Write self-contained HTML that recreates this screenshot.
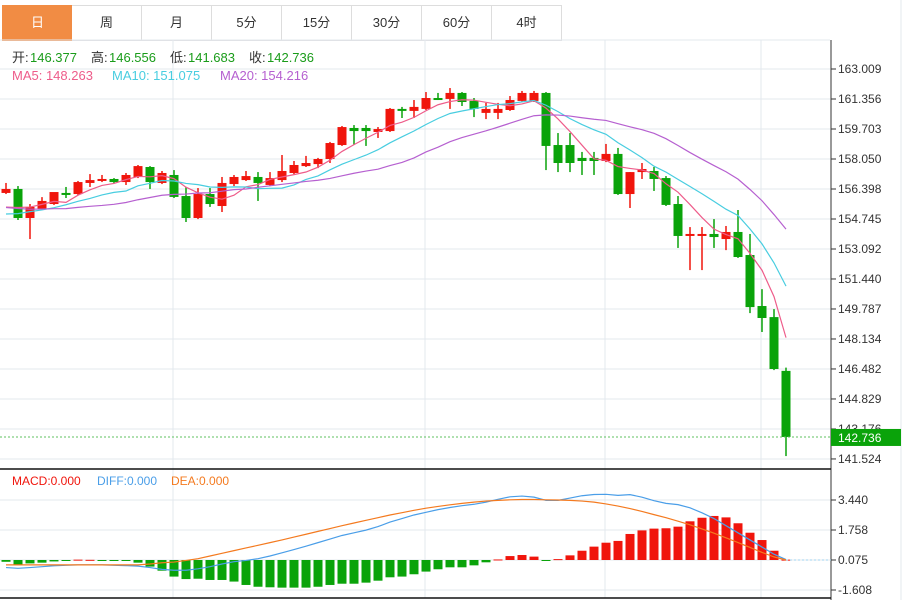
<!DOCTYPE html>
<html><head><meta charset="utf-8">
<style>
body{margin:0;background:#fff;font-family:"Liberation Sans","Noto Sans CJK SC",sans-serif;}
#wrap{position:relative;width:904px;height:600px;overflow:hidden;background:#fff;}
.tab{position:absolute;top:5px;height:34px;width:69px;border:1px solid #ddd;border-left:none;font-size:13px;color:#333;text-align:center;line-height:34px;background:#fff;}
.tab.active{background:#f18c44;color:#fff;border-color:#f18c44;}
</style></head><body>
<div id="wrap">
<div class="tab active" style="left:2px;border-left:1px solid #f18c44">日</div>
<div class="tab" style="left:72px">周</div>
<div class="tab" style="left:142px">月</div>
<div class="tab" style="left:212px">5分</div>
<div class="tab" style="left:282px">15分</div>
<div class="tab" style="left:352px">30分</div>
<div class="tab" style="left:422px">60分</div>
<div class="tab" style="left:492px">4时</div>
<svg id="svg" width="904" height="600" style="position:absolute;left:0;top:0"></svg>
</div>
<script>
const opens=[156.18,156.40,154.80,155.29,155.57,156.18,156.12,156.73,156.84,156.95,156.78,157.06,157.61,156.73,157.17,156.01,154.80,156.12,155.46,156.67,156.89,157.06,156.62,156.89,157.28,157.66,157.77,158.05,158.82,159.76,159.76,159.54,159.59,160.81,160.70,160.81,161.41,161.36,161.69,161.25,160.59,160.59,160.75,161.25,161.25,161.69,158.82,158.82,158.11,158.11,157.94,158.33,156.12,157.33,157.39,157.00,155.57,153.81,153.81,153.92,153.64,154.03,152.76,149.95,149.34,146.377];
const highs=[156.73,156.56,155.57,155.95,156.01,156.51,156.84,157.22,157.17,157.00,157.28,157.72,157.66,157.39,157.44,156.51,156.45,156.45,157.06,157.17,157.39,157.33,157.33,158.27,157.94,158.22,158.11,158.99,159.87,159.92,159.92,159.81,160.86,160.92,161.30,161.74,161.69,161.96,161.74,161.41,161.14,161.14,161.52,161.80,161.80,161.74,159.48,159.48,158.44,158.44,158.88,158.66,157.33,157.83,157.61,157.11,156.01,154.30,154.30,154.74,154.36,155.24,153.92,150.88,149.78,146.556];
const lows=[156.12,154.69,153.64,155.24,155.52,155.90,156.07,156.51,156.78,156.73,156.62,157.00,156.40,156.67,155.90,154.58,154.74,155.41,155.13,156.56,156.84,155.74,156.56,156.78,157.22,157.61,157.55,157.83,158.77,158.82,158.77,159.21,159.54,160.31,160.31,160.75,161.30,160.81,160.97,160.36,160.25,160.25,160.70,161.19,161.19,157.44,157.33,157.33,157.17,157.17,157.88,156.07,155.35,156.95,156.29,155.46,153.15,151.93,151.93,153.15,153.03,152.60,149.56,148.52,146.42,141.683];
const closes=[156.40,154.80,155.41,155.74,156.23,156.12,156.78,156.89,156.95,156.78,157.17,157.66,156.78,157.28,155.96,154.80,156.12,155.57,156.73,157.06,157.11,156.73,157.00,157.39,157.72,157.83,158.05,158.93,159.81,159.59,159.59,159.70,160.81,160.70,160.92,161.41,161.36,161.69,161.19,160.81,160.81,160.81,161.30,161.69,161.69,158.77,157.83,157.83,157.94,157.94,158.33,156.12,157.33,157.50,156.95,155.52,153.81,153.92,153.92,153.75,154.03,152.65,149.89,149.29,146.48,142.736];
const priorCloses=[155.9,156.2,155.6,155.8,156.1,155.4,155.7,156.0,155.5,155.2,154.6,154.3,154.8,155.0,154.5,154.9,155.3,155.0,155.4];
const priceTicks=["163.009","161.356","159.703","158.050","156.398","154.745","153.092","151.440","149.787","148.134","146.482","144.829","143.176","141.524"];
const macdTicks=["3.440","1.758","0.075","-1.608"];
const macdHist=[-0.1,-0.3,-0.19,-0.15,-0.08,-0.03,0.02,0.01,-0.02,-0.03,-0.05,-0.15,-0.37,-0.6,-0.93,-1.07,-1.05,-1.12,-1.12,-1.21,-1.4,-1.5,-1.53,-1.55,-1.55,-1.55,-1.5,-1.4,-1.33,-1.33,-1.27,-1.16,-0.97,-0.93,-0.8,-0.65,-0.52,-0.41,-0.41,-0.3,-0.13,0.03,0.22,0.28,0.19,-0.03,0.05,0.26,0.52,0.75,0.97,1.07,1.46,1.66,1.76,1.78,1.87,2.17,2.37,2.47,2.39,2.06,1.53,1.12,0.52,0.02];
const diffVals=[-0.35,-0.39,-0.35,-0.3,-0.25,-0.22,-0.2,-0.2,-0.2,-0.22,-0.24,-0.27,-0.35,-0.45,-0.5,-0.5,-0.42,-0.3,-0.15,-0.02,0.05,0.15,0.3,0.48,0.66,0.85,1.05,1.25,1.45,1.6,1.75,1.95,2.2,2.4,2.6,2.75,2.9,3.02,3.12,3.2,3.32,3.48,3.62,3.66,3.6,3.42,3.42,3.55,3.68,3.75,3.76,3.7,3.74,3.6,3.4,3.25,3.18,3.0,2.72,2.4,2.0,1.6,1.2,0.8,0.4,0.1];
const deaVals=[-0.2,-0.2,-0.2,-0.2,-0.2,-0.2,-0.2,-0.2,-0.2,-0.2,-0.2,-0.2,-0.15,-0.08,-0.04,0.05,0.15,0.3,0.45,0.6,0.75,0.9,1.05,1.2,1.36,1.52,1.68,1.84,2.0,2.15,2.3,2.45,2.6,2.73,2.86,2.98,3.08,3.17,3.25,3.32,3.38,3.42,3.45,3.47,3.47,3.45,3.44,3.42,3.38,3.32,3.22,3.1,2.96,2.8,2.62,2.45,2.25,2.05,1.82,1.58,1.32,1.05,0.78,0.5,0.25,0.075];

const NS='http://www.w3.org/2000/svg';
const svg=document.getElementById('svg');
function mk(tag,attrs,parent){const e=document.createElementNS(NS,tag);for(const k in attrs)e.setAttribute(k,attrs[k]);(parent||svg).appendChild(e);return e;}
const xAt=i=>6+12*i;
const yP=v=>69+(163.009-v)*18.15;
const yM=v=>560-(v-0.075)*17.83;
const yH=v=>560-v*17.83;

// grid
mk('line',{x1:0,y1:40,x2:830,y2:40,stroke:'#e3e8ee'});
priceTicks.forEach(t=>{const y=yP(parseFloat(t));
 const g=mk('line',{x1:0,y1:y,x2:830,y2:y,stroke:'#e3e8ee'});
 
 mk('line',{x1:831,y1:y,x2:836,y2:y,stroke:'#333'});
 const tx=mk('text',{x:838,y:y+4,'font-size':12,fill:'#333','font-family':'Liberation Sans, sans-serif'});tx.textContent=t;
 
});
macdTicks.forEach(t=>{const y=yM(parseFloat(t));
 mk('line',{x1:0,y1:y,x2:830,y2:y,stroke:'#e3e8ee'});
 mk('line',{x1:831,y1:y,x2:836,y2:y,stroke:'#333'});
 const tx=mk('text',{x:838,y:y+4,'font-size':12,fill:'#333','font-family':'Liberation Sans, sans-serif'});tx.textContent=t;
 
});
[173,425,605,761].forEach(x=>{mk('line',{x1:x,y1:40,x2:x,y2:598,stroke:'#e3e8ee'});});
mk('line',{x1:831,y1:40,x2:831,y2:600,stroke:'#333'});
mk('line',{x1:901,y1:0,x2:901,y2:600,stroke:'#e3e8ee'});
mk('line',{x1:0,y1:469,x2:831,y2:469,stroke:'#111','stroke-width':1.5});
mk('line',{x1:0,y1:598,x2:831,y2:598,stroke:'#111','stroke-width':1.5});

// candles
opens.forEach((o,i)=>{const c=closes[i];const up=c>=o;const col=up?'#f0150c':'#0aa30a';const x=xAt(i);
 const w=mk('line',{x1:x,y1:yP(highs[i]),x2:x,y2:yP(lows[i]),stroke:col,'stroke-width':1.5});
 
 const top=yP(Math.max(o,c)),bot=yP(Math.min(o,c));
 const r=mk('rect',{x:x-4.5,y:top,width:9,height:Math.max(2,bot-top),fill:col});
 
});
// MAs
function ma(n){const all=priorCloses.concat(closes);return closes.map((_,i)=>{const j=i+priorCloses.length;let s=0,k=0;for(let q=Math.max(0,j-n+1);q<=j;q++){s+=all[q];k++;}return s/k;});}
[[5,'#ee5c8a','ma5-line'],[10,'#48cde0','ma10-line'],[20,'#b660d0','ma20-line']].forEach(([n,col,name])=>{
 const v=ma(n);const p=mk('polyline',{points:v.map((m,i)=>xAt(i)+','+yP(m)).join(' '),fill:'none',stroke:col,'stroke-width':1.2});
 
});
// last price
const ly=yP(closes[closes.length-1]);
mk('line',{x1:0,y1:ly,x2:831,y2:ly,stroke:'#5fc25f','stroke-dasharray':'2,2'});
const tag=mk('rect',{x:831,y:ly-8,width:70,height:17,fill:'#0aa30a'});

const tt=mk('text',{x:838,y:ly+5,'font-size':12,fill:'#fff','font-family':'Liberation Sans, sans-serif'});tt.textContent=closes[closes.length-1].toFixed(3);

// MACD
macdHist.forEach((v,i)=>{const x=xAt(i);const y0=yH(0),y1=yH(v);
 const r=mk('rect',{x:x-4.5,y:Math.min(y0,y1),width:9,height:Math.max(1,Math.abs(y1-y0)),fill:v>=0?'#f0150c':'#0aa30a'});
 
});
const d1=mk('polyline',{points:diffVals.map((v,i)=>xAt(i)+','+yM(v)).join(' '),fill:'none',stroke:'#4a9ee8','stroke-width':1.2});

const d2=mk('polyline',{points:deaVals.map((v,i)=>xAt(i)+','+yM(v)).join(' '),fill:'none',stroke:'#f47a1f','stroke-width':1.2});

mk('line',{x1:xAt(65),y1:560,x2:831,y2:560,stroke:'#9fd3f0','stroke-dasharray':'2,2'});

// legends
function txt(x,y,s,col,size){const t=mk('text',{x:x,y:y,'font-size':size,fill:col,'font-family':'Liberation Sans, Noto Sans CJK SC, sans-serif'});t.textContent=s;return t;}
const l1=[['开:','146.377'],['高:','146.556'],['低:','141.683'],['收:','142.736']];
let lx=12;l1.forEach(([a,b])=>{txt(lx,62,a,'#333',13);txt(lx+18,62,b,'#1a9c1a',13);lx+=79;});
txt(12,80,'MA5: 148.263','#ee5c8a',13);
txt(112,80,'MA10: 151.075','#48cde0',13);
txt(220,80,'MA20: 154.216','#b660d0',13);
txt(12,485,'MACD:0.000','#f0150c',12);
txt(97,485,'DIFF:0.000','#4a9ee8',12);
txt(171,485,'DEA:0.000','#f47a1f',12);
</script>
</body></html>
